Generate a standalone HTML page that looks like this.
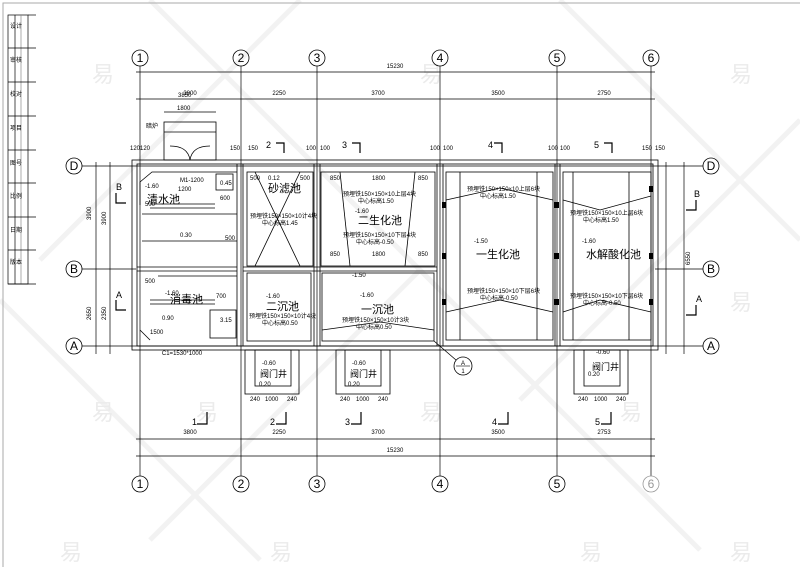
<!DOCTYPE html>
<html><head><meta charset="utf-8"><style>
html,body{margin:0;padding:0;background:#fff;}
svg{display:block;}
text{font-family:"Liberation Sans","Noto Sans CJK SC",sans-serif;fill:#000;}
text.wm{fill:#ebebeb;font-size:22px;}
.s{font-size:6px;}
.m{font-size:9px;}
.c{font-size:12px;font-family:"Liberation Serif","Noto Serif CJK SC",serif;}
.cn{font-size:11px;font-family:"Noto Serif CJK SC","Noto Sans CJK SC",serif;}
</style></head><body>
<svg width="800" height="567" viewBox="0 0 800 567" xmlns="http://www.w3.org/2000/svg">
<rect x="0" y="0" width="800" height="567" fill="#fff"/>
<g stroke="#f2f2f2" stroke-width="5" fill="none">
<line x1="150" y1="0" x2="420" y2="270"/><line x1="420" y1="270" x2="700" y2="550"/>
<line x1="560" y1="0" x2="800" y2="240"/><line x1="0" y1="300" x2="260" y2="560"/>
<line x1="420" y1="270" x2="150" y2="540"/><line x1="800" y1="120" x2="520" y2="400"/>
<line x1="300" y1="0" x2="40" y2="260"/>
</g>
<g>
<text class="wm" x="92" y="82">易</text><text class="wm" x="420" y="82">易</text><text class="wm" x="730" y="82">易</text>
<text class="wm" x="92" y="420">易</text><text class="wm" x="196" y="420">易</text><text class="wm" x="420" y="420">易</text><text class="wm" x="620" y="420">易</text><text class="wm" x="730" y="310">易</text>
<text class="wm" x="60" y="560">易</text><text class="wm" x="270" y="560">易</text><text class="wm" x="580" y="560">易</text><text class="wm" x="730" y="560">易</text>
</g>
<polyline points="3,567 3,3 800,3" fill="none" stroke="#aaa" stroke-width="1"/>
<g stroke="#000" stroke-width="0.7" fill="none">
<rect x="8" y="15" width="20" height="269"/>
<line x1="15" y1="15" x2="15" y2="284"/><line x1="21" y1="15" x2="21" y2="284" stroke="#888"/>
<line x1="28" y1="15" x2="36" y2="15"/>
<line x1="8" y1="48" x2="36" y2="48"/><line x1="8" y1="82" x2="36" y2="82"/><line x1="8" y1="116" x2="36" y2="116"/>
<line x1="8" y1="150" x2="36" y2="150"/><line x1="8" y1="183" x2="36" y2="183"/><line x1="8" y1="217" x2="36" y2="217"/>
<line x1="8" y1="250" x2="36" y2="250"/><line x1="8" y1="284" x2="36" y2="284"/>
</g>
<g class="s" font-size="4"><text x="10" y="28">设计</text><text x="10" y="62">审核</text><text x="10" y="96">校对</text><text x="10" y="130">项目</text><text x="10" y="165">图号</text><text x="10" y="198">比例</text><text x="10" y="232">日期</text><text x="10" y="264">版本</text></g>

<g stroke="#000" stroke-width="0.7">
<line x1="140" y1="66" x2="140" y2="476"/><line x1="241" y1="66" x2="241" y2="476"/>
<line x1="317" y1="66" x2="317" y2="476"/><line x1="440" y1="66" x2="440" y2="476"/>
<line x1="557" y1="66" x2="557" y2="476"/><line x1="651" y1="66" x2="651" y2="476"/>
<line x1="82" y1="166" x2="703" y2="166"/><line x1="82" y1="269" x2="136" y2="269"/><line x1="655" y1="269" x2="703" y2="269"/>
<line x1="82" y1="346" x2="703" y2="346"/>
<line x1="136" y1="72" x2="655" y2="72"/><line x1="136" y1="99" x2="655" y2="99"/>
<line x1="136" y1="439" x2="655" y2="439"/><line x1="136" y1="456" x2="655" y2="456"/>
<line x1="96" y1="162" x2="96" y2="354"/><line x1="110" y1="162" x2="110" y2="354"/>
<line x1="684" y1="162" x2="684" y2="354"/><line x1="666" y1="162" x2="666" y2="354"/>
</g>
<g fill="none" stroke="#000" stroke-width="0.8">
<circle cx="140" cy="58" r="8"/><circle cx="241" cy="58" r="8"/><circle cx="317" cy="58" r="8"/><circle cx="440" cy="58" r="8"/><circle cx="557" cy="58" r="8"/><circle cx="651" cy="58" r="8"/>
<circle cx="140" cy="484" r="8"/><circle cx="241" cy="484" r="8"/><circle cx="317" cy="484" r="8"/><circle cx="440" cy="484" r="8"/><circle cx="557" cy="484" r="8"/><circle cx="651" cy="484" r="8" stroke="#999"/>
<circle cx="74" cy="166" r="8"/><circle cx="74" cy="269" r="8"/><circle cx="74" cy="346" r="8"/>
<circle cx="711" cy="166" r="8"/><circle cx="711" cy="269" r="8"/><circle cx="711" cy="346" r="8"/>
<circle cx="463" cy="366" r="9"/>
</g>
<g class="c" text-anchor="middle">
<text x="140" y="62">1</text><text x="241" y="62">2</text><text x="317" y="62">3</text><text x="440" y="62">4</text><text x="557" y="62">5</text><text x="651" y="62">6</text>
<text x="140" y="488">1</text><text x="241" y="488">2</text><text x="317" y="488">3</text><text x="440" y="488">4</text><text x="557" y="488">5</text><text x="651" y="488" style="fill:#999">6</text>
<text x="74" y="170">D</text><text x="74" y="273">B</text><text x="74" y="350">A</text>
<text x="711" y="170">D</text><text x="711" y="273">B</text><text x="711" y="350">A</text>
</g>
<text x="463" y="365" class="s" text-anchor="middle">A</text><line x1="456" y1="366" x2="470" y2="366" stroke="#000" stroke-width="0.6"/><text x="463" y="373" class="s" text-anchor="middle">1</text>
<g class="s" text-anchor="middle">
<text x="395" y="68">15230</text>
<text x="190" y="95">3800</text><text x="279" y="95">2250</text><text x="378" y="95">3700</text><text x="498" y="95">3500</text><text x="604" y="95">2750</text>
<text x="190" y="434">3800</text><text x="279" y="434">2250</text><text x="378" y="434">3700</text><text x="498" y="434">3500</text><text x="604" y="434">2753</text>
<text x="395" y="452">15230</text>
<text x="182" y="355">C1=1530*1000</text>
</g>
<g class="s"><text x="91" y="220" transform="rotate(-90 91 220)">3900</text><text x="91" y="320" transform="rotate(-90 91 320)">2650</text>
<text x="106" y="225" transform="rotate(-90 106 225)">3900</text><text x="106" y="320" transform="rotate(-90 106 320)">2350</text>
<text x="690" y="265" transform="rotate(-90 690 265)">6550</text></g>

<g stroke="#000" stroke-width="0.8" fill="none">
<rect x="132" y="160" width="526" height="190"/>
<rect x="137" y="164" width="516" height="182"/>
<line x1="237" y1="164" x2="237" y2="346"/><line x1="243" y1="164" x2="243" y2="346"/>
<line x1="314" y1="164" x2="314" y2="346"/><line x1="320" y1="164" x2="320" y2="346"/>
<line x1="437" y1="164" x2="437" y2="346"/><line x1="443" y1="164" x2="443" y2="346"/>
<line x1="555" y1="164" x2="555" y2="346"/><line x1="560" y1="164" x2="560" y2="346"/>
<line x1="137" y1="267" x2="237" y2="267"/><line x1="137" y1="271" x2="237" y2="271"/>
<line x1="243" y1="267" x2="437" y2="267"/><line x1="243" y1="271" x2="437" y2="271"/>
<rect x="247" y="172" width="66" height="94"/>
<line x1="255" y1="172" x2="300" y2="266"/><line x1="300" y1="172" x2="255" y2="266"/>
<rect x="321" y="172" width="114" height="94"/>
<rect x="247" y="273" width="64" height="68"/>
<rect x="322" y="273" width="112" height="68"/>
<rect x="446" y="172" width="107" height="168"/>
<rect x="563" y="172" width="88" height="168"/>
<line x1="460" y1="172" x2="460" y2="340"/><line x1="537" y1="172" x2="537" y2="340"/>
<line x1="573" y1="172" x2="573" y2="340"/><line x1="629" y1="172" x2="629" y2="340"/>
<polyline points="140,205 140,182 152,172 237,172"/>
<line x1="142" y1="214" x2="237" y2="214"/><line x1="142" y1="241" x2="237" y2="241"/>
<line x1="150" y1="204" x2="215" y2="204"/><line x1="150" y1="208" x2="215" y2="208"/>
<rect x="216" y="174" width="17" height="16"/>
<line x1="150" y1="300" x2="215" y2="300"/><line x1="150" y1="304" x2="215" y2="304"/>
<rect x="210" y="310" width="26" height="28"/>
<line x1="140" y1="330" x2="150" y2="340"/>
<line x1="158" y1="276" x2="237" y2="276"/>
<rect x="245" y="350" width="54" height="44"/><rect x="255" y="350" width="36" height="36"/>
<rect x="336" y="350" width="54" height="44"/><rect x="345" y="350" width="36" height="36"/>
<rect x="574" y="350" width="54" height="44"/><rect x="584" y="350" width="36" height="36"/>
<rect x="164" y="122" width="52" height="38"/><line x1="164" y1="132" x2="216" y2="132"/>
<path d="M170 146 Q188 146 190 160 M210 146 Q192 146 190 160"/>
<line x1="164" y1="112" x2="216" y2="112"/>
<polyline points="446,200 500,188 553,200"/><polyline points="446,312 500,300 553,312"/>
<polyline points="563,200 600,210 651,196"/><polyline points="563,312 600,300 651,312"/>
<line x1="340" y1="172" x2="350" y2="266"/><line x1="415" y1="172" x2="405" y2="266"/>
<polyline points="322,330 380,322 434,330"/>
<line x1="434" y1="341" x2="456" y2="360"/>
</g>
<g fill="#000">
<rect x="554" y="202" width="5" height="6"/><rect x="554" y="253" width="5" height="6"/><rect x="554" y="299" width="5" height="6"/>
<rect x="442" y="202" width="4" height="6"/><rect x="442" y="253" width="4" height="6"/><rect x="442" y="299" width="4" height="6"/>
<rect x="649" y="186" width="4" height="6"/><rect x="649" y="253" width="4" height="6"/><rect x="649" y="299" width="4" height="6"/>
</g>
<g stroke="#000" stroke-width="1.2" fill="none">
<polyline points="276,143 284,143 284,153"/><polyline points="352,143 360,143 360,153"/>
<polyline points="494,143 502,143 502,153"/><polyline points="604,143 612,143 612,153"/>
<polyline points="116,193 116,203 126,203"/><polyline points="116,300 116,310 126,310"/>
<polyline points="696,200 696,210 686,210"/><polyline points="696,305 696,315 686,315"/>
<polyline points="207,412 207,424 197,424"/><polyline points="286,412 286,424 276,424"/>
<polyline points="361,412 361,424 351,424"/><polyline points="508,412 508,424 498,424"/><polyline points="611,412 611,424 601,424"/>
</g>
<g class="m"><text x="266" y="148">2</text><text x="342" y="148">3</text><text x="488" y="148">4</text><text x="594" y="148">5</text>
<text x="116" y="190">B</text><text x="116" y="298">A</text><text x="694" y="197">B</text><text x="696" y="302">A</text>
<text x="192" y="425">1</text><text x="270" y="425">2</text><text x="345" y="425">3</text><text x="492" y="425">4</text><text x="595" y="425">5</text></g>
<g class="cn">
<text x="147" y="203">清水池</text><text x="170" y="303">消毒池</text>
<text x="268" y="192">砂滤池</text><text x="358" y="224">二生化池</text>
<text x="266" y="310">二沉池</text><text x="361" y="313">一沉池</text>
<text x="476" y="258">一生化池</text><text x="586" y="258">水解酸化池</text>
<text x="260" y="377" font-size="9">阀门井</text><text x="350" y="377" font-size="9">阀门井</text><text x="592" y="370" font-size="9">阀门井</text>
</g>
<g class="s">
<text x="145" y="188">-1.60</text><text x="178" y="191">1200</text><text x="180" y="182">M1-1200</text><text x="220" y="185">0.45</text><text x="220" y="200">600</text>
<text x="145" y="206">500</text><text x="180" y="237">0.30</text><text x="225" y="240">500</text><text x="145" y="283">500</text>
<text x="165" y="295">-1.60</text><text x="216" y="298">700</text><text x="162" y="320">0.90</text><text x="220" y="322">3.15</text><text x="150" y="334">1500</text>
<text x="250" y="180">500</text><text x="268" y="180">0.12</text><text x="300" y="180">500</text>
<text x="250" y="218">预埋铁150×150×10计4块</text><text x="262" y="225">中心标高1.45</text>
<text x="330" y="180">850</text><text x="372" y="180">1800</text><text x="418" y="180">850</text>
<text x="343" y="196">预埋铁150×150×10上层4块</text><text x="358" y="203">中心标高1.50</text>
<text x="355" y="213">-1.60</text>
<text x="343" y="237">预埋铁150×150×10下层4块</text><text x="356" y="244">中心标高-0.50</text>
<text x="330" y="256">850</text><text x="372" y="256">1800</text><text x="418" y="256">850</text>
<text x="352" y="277">-1.50</text>
<text x="266" y="298">-1.60</text><text x="249" y="318">预埋铁150×150×10计4块</text><text x="262" y="325">中心标高0.50</text>
<text x="360" y="297">-1.60</text><text x="342" y="322">预埋铁150×150×10计3块</text><text x="356" y="329">中心标高0.50</text>
<text x="467" y="191">预埋铁150×150×10上层6块</text><text x="480" y="198">中心标高1.50</text>
<text x="474" y="243">-1.50</text>
<text x="467" y="293">预埋铁150×150×10下层6块</text><text x="480" y="300">中心标高-0.50</text>
<text x="570" y="215">预埋铁150×150×10上层6块</text><text x="583" y="222">中心标高1.50</text>
<text x="582" y="243">-1.60</text>
<text x="570" y="298">预埋铁150×150×10下层6块</text><text x="583" y="305">中心标高-0.50</text>
<text x="262" y="365">-0.60</text><text x="259" y="386">0.20</text><text x="352" y="365">-0.60</text><text x="348" y="386">0.20</text>
<text x="596" y="354">-0.60</text><text x="588" y="376">0.20</text>
<text x="250" y="401">240</text><text x="265" y="401">1000</text><text x="287" y="401">240</text>
<text x="340" y="401">240</text><text x="356" y="401">1000</text><text x="378" y="401">240</text>
<text x="578" y="401">240</text><text x="594" y="401">1000</text><text x="616" y="401">240</text>
<text x="146" y="128">暗炉</text><text x="177" y="110">1800</text><text x="178" y="97">3850</text>
<text x="130" y="150">120</text><text x="140" y="150">120</text><text x="230" y="150">150</text><text x="248" y="150">150</text>
<text x="306" y="150">100</text><text x="320" y="150">100</text><text x="430" y="150">100</text><text x="443" y="150">100</text>
<text x="548" y="150">100</text><text x="560" y="150">100</text><text x="642" y="150">150</text><text x="655" y="150">150</text>
</g>
</svg>
</body></html>
